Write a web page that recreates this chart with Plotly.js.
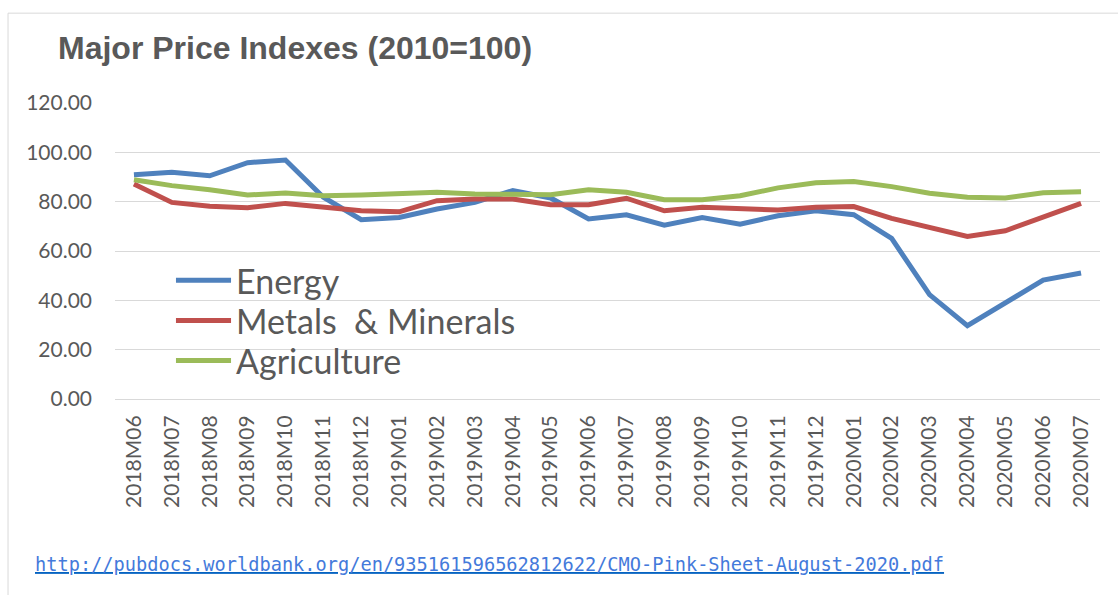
<!DOCTYPE html>
<html>
<head>
<meta charset="utf-8">
<script src="https://cdn.plot.ly/plotly-3.0.1.min.js"></script>
<style>
  html, body { margin: 0; padding: 0; background: #ffffff; }
  #chart { width: 1118px; height: 595px; }
</style>
</head>
<body>
<div id="chart"></div>
<script>
// Monthly periods on the category axis
const months = [
  '2018M06','2018M07','2018M08','2018M09','2018M10','2018M11','2018M12',
  '2019M01','2019M02','2019M03','2019M04','2019M05','2019M06','2019M07',
  '2019M08','2019M09','2019M10','2019M11','2019M12',
  '2020M01','2020M02','2020M03','2020M04','2020M05','2020M06','2020M07'
];

// Price indexes, 2010 = 100
const energy = [90.9, 91.9, 90.5, 95.8, 96.9, 81.8, 72.7, 73.6, 77.0, 79.7, 84.5, 81.5, 73.0,
                74.7, 70.5, 73.6, 70.9, 74.3, 76.3, 74.7, 65.1, 42.3, 29.7, 38.9, 48.2, 51.1];
const metals = [87.2, 79.7, 78.1, 77.5, 79.3, 77.7, 76.3, 75.9, 80.4, 81.1, 81.1, 78.8, 78.8,
                81.4, 76.3, 77.7, 77.0, 76.6, 77.7, 78.0, 73.2, 69.3, 65.9, 68.2, 73.9, 79.3];
const agriculture = [88.9, 86.5, 84.8, 82.7, 83.5, 82.4, 82.7, 83.5, 83.8, 83.1, 83.1, 82.8, 84.8,
                     83.8, 80.8, 80.8, 82.4, 85.6, 87.7, 88.2, 86.1, 83.4, 81.8, 81.5, 83.6, 84.0];

const seriesNames = ['Energy', 'Metals&nbsp; & Minerals', 'Agriculture'];
const seriesColors = ['#4F81BD', '#C0504D', '#9BBB59'];
const seriesValues = [energy, metals, agriculture];

const sourceUrl = 'http://pubdocs.worldbank.org/en/935161596562812622/CMO-Pink-Sheet-August-2020.pdf';

const textGray = '#595959';
const gridGray = '#D9D9D9';

const traces = seriesValues.map((vals, k) => ({
  type: 'scatter',
  mode: 'lines',
  x: months,
  y: vals,
  name: seriesNames[k],
  line: { color: seriesColors[k], width: 5 },
  hoverinfo: 'x+y+name',
  showlegend: false
}));

// In-plot key: short line sample followed by the series name
const keyY = [0.401, 0.265, 0.130];
const shapes = [
  // chart frame
  { type: 'rect', xref: 'paper', yref: 'paper', x0: -0.1086, x1: 1.05, y0: -0.75, y1: 1.3035,
    line: { color: gridGray, width: 1 }, fillcolor: 'rgba(0,0,0,0)', layer: 'below' }
];
const annotations = [];
seriesNames.forEach((nm, k) => {
  shapes.push({ type: 'line', xref: 'paper', yref: 'paper',
    x0: 0.0619, x1: 0.1178, y0: keyY[k], y1: keyY[k],
    line: { color: seriesColors[k], width: 5 } });
  annotations.push({ xref: 'paper', yref: 'paper', x: 0.1239, y: keyY[k],
    xanchor: 'left', yanchor: 'middle', xshift: -3, showarrow: false, text: nm,
    font: { family: 'Lato, sans-serif', size: 34, color: textGray } });
});

annotations.push({
  xref: 'paper', yref: 'paper', x: -0.0812, y: -0.56, xanchor: 'left', yanchor: 'middle',
  xshift: -2, showarrow: false,
  text: '<a href="' + sourceUrl + '">' + sourceUrl + '</a>',
  font: { family: '"DejaVu Sans Mono", monospace', size: 18.65, color: '#0563C1', lineposition: 'under' }
});

const layout = {
  width: 1118,
  height: 595,
  margin: { l: 115, r: 18, t: 102.5, b: 196, pad: 0 },
  paper_bgcolor: '#ffffff',
  plot_bgcolor: '#ffffff',
  title: {
    text: 'Major Price Indexes (2010=100)',
    xref: 'container', yref: 'container',
    x: 0.0519, xanchor: 'left',
    y: 0.92, yanchor: 'middle',
    font: { family: '"Liberation Sans", Arial, sans-serif', size: 32, color: textGray, weight: 'bold' }
  },
  xaxis: {
    type: 'category',
    range: [-0.5, 25.5],
    tickangle: -90,
    showgrid: false,
    zeroline: false,
    showline: true,
    linecolor: gridGray,
    linewidth: 1,
    ticks: '',
    ticklabelstandoff: 7,
    tickfont: { family: 'Lato, sans-serif', size: 21, color: textGray },
    fixedrange: true
  },
  yaxis: {
    range: [0, 120],
    tickvals: [0, 20, 40, 60, 80, 100, 120],
    tickformat: '.2f',
    showgrid: true,
    gridcolor: gridGray,
    gridwidth: 1,
    zeroline: false,
    showline: false,
    ticks: '',
    ticklabelstandoff: 22,
    tickfont: { family: 'Lato, sans-serif', size: 21, color: textGray },
    fixedrange: true
  },
  shapes: shapes,
  annotations: annotations,
  showlegend: false
};

Plotly.newPlot('chart', traces, layout, { displayModeBar: false });
</script>
</body>
</html>
